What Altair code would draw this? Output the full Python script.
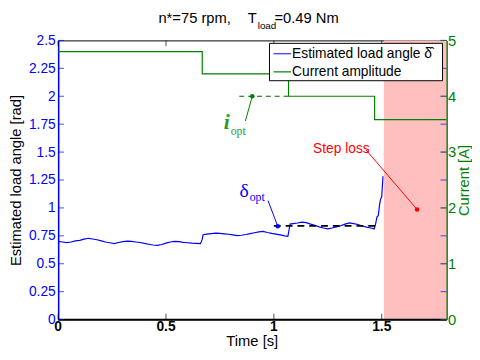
import altair as alt
import pandas as pd

# ---------------- data ----------------
t_angle = [0, 0.02, 0.04, 0.06, 0.08, 0.10, 0.12, 0.14, 0.16, 0.18, 0.20, 0.22, 0.24, 0.26,
           0.28, 0.30, 0.32, 0.34, 0.36, 0.38, 0.40, 0.42, 0.44, 0.46, 0.48, 0.50, 0.52, 0.54,
           0.56, 0.58, 0.60, 0.62, 0.64, 0.66, 0.668, 0.672, 0.69, 0.71, 0.73, 0.75, 0.77, 0.79,
           0.81, 0.83, 0.85, 0.87, 0.89, 0.91, 0.93, 0.95, 0.97, 0.99, 1.01, 1.03, 1.05, 1.065,
           1.07, 1.075, 1.09, 1.11, 1.13, 1.15, 1.17, 1.19, 1.21, 1.23, 1.25, 1.27, 1.29, 1.31,
           1.33, 1.35, 1.37, 1.39, 1.41, 1.43, 1.45, 1.465, 1.472, 1.478, 1.484, 1.49, 1.495,
           1.50, 1.506]
angle = [0.70, 0.695, 0.69, 0.695, 0.705, 0.71, 0.72, 0.728, 0.722, 0.715, 0.705, 0.695, 0.688,
         0.68, 0.69, 0.698, 0.702, 0.70, 0.695, 0.69, 0.682, 0.675, 0.668, 0.664, 0.672, 0.685,
         0.695, 0.70, 0.698, 0.692, 0.688, 0.684, 0.682, 0.68, 0.72, 0.76, 0.765, 0.77, 0.775,
         0.772, 0.768, 0.764, 0.758, 0.752, 0.755, 0.762, 0.77, 0.778, 0.785, 0.79, 0.78, 0.772,
         0.765, 0.758, 0.75, 0.746, 0.80, 0.855, 0.86, 0.865, 0.872, 0.868, 0.855, 0.845, 0.83,
         0.82, 0.812, 0.82, 0.83, 0.84, 0.855, 0.866, 0.86, 0.852, 0.838, 0.828, 0.82, 0.812,
         0.86, 0.92, 0.93, 1.03, 1.08, 1.10, 1.285]

t_current = [0.0, 0.668, 1.068, 1.467, 1.8]
current = [4.8, 4.4, 4.0, 3.58, 3.58]

shade_start = [1.51]
shade_end = [1.8]

delta_opt = 0.839
delta_opt_t = [1.0, 1.47]
i_opt = 4.0
i_opt_t = [0.84, 1.068]

left_ticks = [0, 0.25, 0.5, 0.75, 1, 1.25, 1.5, 1.75, 2, 2.25, 2.5]
right_ticks = [0, 1, 2, 3, 4, 5]
x_ticks = [0, 0.5, 1, 1.5]
x_tick_labels = ["0", "0.5", "1", "1.5"]
x_title = "Time [s]"
x_mid = [0.9]

BLUE = "#0000ff"
GREEN = "#008000"
RED = "#ff0000"
FONT = "Liberation Sans"
SERIF = "Liberation Serif"

TOTAL_W, TOTAL_H = 472, 344
xs = alt.Scale(domain=[0, 1.8], nice=False, zero=False)
yl = alt.Scale(domain=[0, 2.5], nice=False, zero=False)
yr = alt.Scale(domain=[0, 5], nice=False, zero=False)

one = pd.DataFrame({"a": [1]})
LBL = "datum.value + ''"


def xchan(field):
    return alt.X(field, scale=xs, axis=None)


def ychan(field, sc):
    return alt.Y(field, scale=sc, axis=None)


# ---------------- main series with axes ----------------
angle_df = pd.DataFrame({"t": t_angle, "a": angle})
angle_line = alt.Chart(angle_df).mark_line(color=BLUE, strokeWidth=1.2).encode(
    x=xchan("t:Q"),
    y=alt.Y("a:Q", scale=yl, axis=alt.Axis(
        values=left_ticks, labelExpr=LBL, title="Estimated load angle [rad]", ticks=False,
        grid=False, labelFontSize=14, labelColor=BLUE, labelFont=FONT, titleFont=FONT,
        titleFontSize=15, titleFontWeight="normal", titleColor="black", domainColor=BLUE,
        domainWidth=1.5, labelPadding=3, titlePadding=5))
)

cur_df = pd.DataFrame({"t": t_current, "c": current})
cur_line = alt.Chart(cur_df).mark_line(color=GREEN, strokeWidth=1.2, interpolate="step-after").encode(
    x=xchan("t:Q"),
    y=alt.Y("c:Q", scale=yr, axis=alt.Axis(
        orient="right", values=right_ticks, labelExpr=LBL, title="Current [A]", ticks=False,
        grid=False, labelFontSize=15, labelColor=GREEN, labelFont=FONT, titleFont=FONT,
        titleFontSize=15, titleFontWeight="normal", titleColor=GREEN, domainColor=GREEN,
        domainWidth=1.5, labelPadding=1, titlePadding=1, titleAngle=270, titleBaseline="top"))
)

shade = alt.Chart(pd.DataFrame({"s": shade_start, "e": shade_end})).mark_rect(
    color="#ffbfbf", opacity=1
).encode(x=xchan("s:Q"), x2="e:Q", y=alt.value(0), y2=alt.value("height"))

# x axis drawn from its tick lists
xaxis_line = alt.Chart(one).mark_rule(color="black", strokeWidth=1.8).encode(
    x=alt.value(0), x2=alt.value("width"), y=alt.value("height"))
xaxis_labels = alt.Chart(pd.DataFrame({"v": x_ticks, "s": x_tick_labels})).mark_text(
    font=FONT, fontSize=14, fontWeight="bold", color="black", baseline="top", dy=1
).encode(x=xchan("v:Q"), y=alt.value("height"), text="s:N")
xaxis_title = alt.Chart(pd.DataFrame({"v": x_mid, "s": [x_title]})).mark_text(
    font=FONT, fontSize=15, color="black", baseline="top", dy=15
).encode(x=xchan("v:Q"), y=alt.value("height"), text="s:N")

dopt_df = pd.DataFrame({"t1": [delta_opt_t[0]], "t2": [delta_opt_t[1]], "y": [delta_opt]})
dopt_rule = alt.Chart(dopt_df).mark_rule(color="black", strokeWidth=1.8, strokeDash=[7, 5]).encode(
    x=xchan("t1:Q"), x2="t2:Q", y=ychan("y:Q", yl))

dann_df = pd.DataFrame({"t1": [0.973], "y1": [1.065], "t2": [1.018], "y2": [0.836]})
dann_line = alt.Chart(dann_df).mark_rule(color=BLUE, strokeWidth=1).encode(
    x=xchan("t1:Q"), y=ychan("y1:Q", yl), x2="t2:Q", y2="y2:Q")
dann_dot = alt.Chart(dann_df).mark_circle(color=BLUE, size=22, opacity=1).encode(
    x=xchan("t2:Q"), y=ychan("y2:Q", yl))
dtxt1 = alt.Chart(pd.DataFrame({"t": [0.841], "y": [1.10], "s": ["δ"]})).mark_text(
    color=BLUE, font=SERIF, fontSize=20, align="left", baseline="alphabetic"
).encode(x=xchan("t:Q"), y=ychan("y:Q", yl), text="s:N")
dtxt2 = alt.Chart(pd.DataFrame({"t": [0.888], "y": [1.06], "s": ["opt"]})).mark_text(
    color=BLUE, font=SERIF, fontSize=12, align="left", baseline="alphabetic"
).encode(x=xchan("t:Q"), y=ychan("y:Q", yl), text="s:N")

sl_df = pd.DataFrame({"t1": [1.427], "y1": [1.52], "t2": [1.664], "y2": [0.986]})
sl_line = alt.Chart(sl_df).mark_rule(color=RED, strokeWidth=1).encode(
    x=xchan("t1:Q"), y=ychan("y1:Q", yl), x2="t2:Q", y2="y2:Q")
sl_dot = alt.Chart(sl_df).mark_circle(color=RED, size=22, opacity=1).encode(
    x=xchan("t2:Q"), y=ychan("y2:Q", yl))
sl_txt = alt.Chart(pd.DataFrame({"t": [1.182], "y": [1.488], "s": ["Step loss"]})).mark_text(
    color=RED, font=FONT, fontSize=14, align="left", baseline="alphabetic"
).encode(x=xchan("t:Q"), y=ychan("y:Q", yl), text="s:N")

iopt_df = pd.DataFrame({"t1": [i_opt_t[0]], "t2": [i_opt_t[1]], "y": [i_opt]})
iopt_rule = alt.Chart(iopt_df).mark_rule(color="#006400", strokeWidth=1.2, strokeDash=[5, 4]).encode(
    x=xchan("t1:Q"), x2="t2:Q", y=ychan("y:Q", yr))
iann_df = pd.DataFrame({"t1": [0.868], "y1": [3.556], "t2": [0.9], "y2": [4.0]})
iann_line = alt.Chart(iann_df).mark_rule(color=GREEN, strokeWidth=1).encode(
    x=xchan("t1:Q"), y=ychan("y1:Q", yr), x2="t2:Q", y2="y2:Q")
iann_dot = alt.Chart(iann_df).mark_circle(color=GREEN, size=22, opacity=1).encode(
    x=xchan("t2:Q"), y=ychan("y2:Q", yr))
itxt1 = alt.Chart(pd.DataFrame({"t": [0.768], "y": [3.415], "s": ["i"]})).mark_text(
    color="#2a9a2a", font=SERIF, fontSize=22, fontStyle="italic", fontWeight="bold",
    align="left", baseline="alphabetic"
).encode(x=xchan("t:Q"), y=ychan("y:Q", yr), text="s:N")
itxt2 = alt.Chart(pd.DataFrame({"t": [0.80], "y": [3.31], "s": ["opt"]})).mark_text(
    color="#2a9a2a", font=SERIF, fontSize=12, align="left", baseline="alphabetic"
).encode(x=xchan("t:Q"), y=ychan("y:Q", yr), text="s:N")

# inward ticks (MATLAB style)
lt_df = pd.DataFrame({"v": left_ticks})
rt_df = pd.DataFrame({"v": right_ticks})
xt_df = pd.DataFrame({"v": x_ticks})
xt_bot = alt.Chart(xt_df).mark_tick(color="black", thickness=1, size=6, orient="vertical",
                                    yOffset=-3).encode(x=xchan("v:Q"), y=alt.value("height"))
xt_top = alt.Chart(xt_df).mark_tick(color="black", thickness=1, size=6, orient="vertical",
                                    yOffset=3).encode(x=xchan("v:Q"), y=alt.value(0))
lt_l = alt.Chart(lt_df).mark_tick(color=BLUE, thickness=1, size=6, orient="horizontal",
                                  xOffset=3).encode(y=ychan("v:Q", yl), x=alt.value(0))
lt_r = alt.Chart(lt_df).mark_tick(color=BLUE, thickness=1, size=6, orient="horizontal",
                                  xOffset=-3).encode(y=ychan("v:Q", yl), x=alt.value("width"))
rt = alt.Chart(rt_df).mark_tick(color=GREEN, thickness=1, size=6, orient="horizontal",
                                xOffset=-3).encode(y=ychan("v:Q", yr), x=alt.value("width"))

# ---------------- legend + title (placed relative to plot) ----------------
leg_box = alt.Chart(one).mark_rect(fill="white", stroke="black", strokeWidth=1).encode(
    x=alt.value(215), x2=alt.value(391), y=alt.value(3), y2=alt.value(41))
leg_l1 = alt.Chart(one).mark_rule(color="#5050ff", strokeWidth=1.5).encode(
    x=alt.value(219), x2=alt.value(237), y=alt.value(13.5))
leg_l2 = alt.Chart(one).mark_rule(color=GREEN, strokeWidth=1.2).encode(
    x=alt.value(219), x2=alt.value(237), y=alt.value(32))


def txt(s, x, y, size, color="black", baseline="alphabetic"):
    return alt.Chart(one).mark_text(
        font=FONT, fontSize=size, align="left", baseline=baseline, color=color, text=s
    ).encode(x=alt.value(x), y=alt.value(y))


layers = [angle_line, shade, cur_line, dopt_rule, dann_line, dann_dot, dtxt1, dtxt2,
          sl_line, sl_dot, sl_txt, iopt_rule, iann_line, iann_dot, itxt1, itxt2,
          xaxis_line, xaxis_labels, xaxis_title,
          xt_bot, xt_top, lt_l, lt_r, rt,
          leg_box, leg_l1, leg_l2,
          txt("Estimated load angle δ̂", 238, 13.5, 14, baseline="middle"),
          txt("Current amplitude", 238, 32, 14, baseline="middle"),
          txt("n*=75 rpm,", 102, -18, 15), txt("T", 193, -18, 15),
          txt("load", 203, -12, 10), txt("=0.49 Nm", 220, -18, 15)]

chart = alt.layer(*layers).resolve_scale(y="independent").properties(
    width=TOTAL_W, height=TOTAL_H,
    autosize=alt.AutoSizeParams(type="fit", contains="padding"),
    padding={"left": 0, "top": 0, "right": 0, "bottom": 0},
).configure_view(stroke="black", strokeWidth=1)

chart.save("out.html", embed_options={"renderer": "svg", "actions": False})
